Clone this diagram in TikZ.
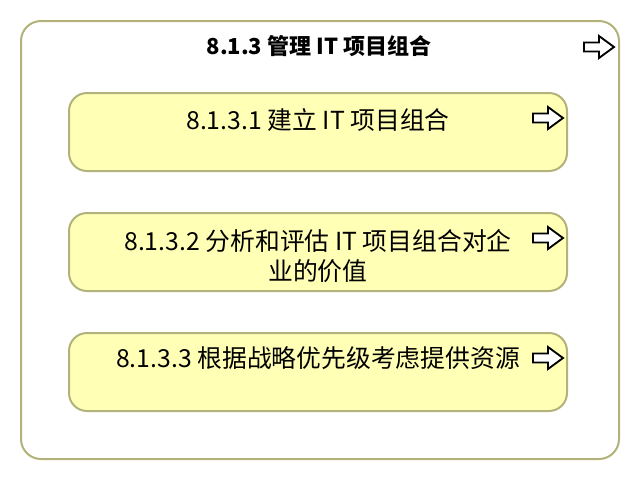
\documentclass[tikz,border=0pt]{standalone}
\usepackage{fontspec}
\setmainfont{Noto Sans CJK SC}
\usetikzlibrary{calc}
\definecolor{archiborder}{RGB}{178,178,122}
\definecolor{archifill}{RGB}{255,255,181}
\tikzset{
	container/.style = {draw = archiborder, line width = 1.5pt, rounded corners = 15pt,
		fill = white, minimum width = 448.5pt, minimum height = 328.5pt, inner sep = 0pt},
	procbox/.style = {draw = archiborder, line width = 1.5pt, rounded corners = 13.5pt,
		fill = archifill, minimum width = 373.5pt, minimum height = 58.5pt, inner sep = 0pt},
	proclabel/.style = {font = \fontsize{18.6pt}{22.5pt}\selectfont, align = center, inner sep = 0pt},
	procicon/.pic = {
		\draw[line width = 1.4pt, line join = miter, fill = white]
			(-30,-4.5) -- (-15,-4.5) -- (-15,-11) -- (0,0) -- (-15,11) -- (-15,4.5) -- (-30,4.5) -- cycle;
	}
}

\begin{document}
\begin{tikzpicture}[x = 0.75pt, y = -0.75pt]
\useasboundingbox (0,0) rectangle (640,480);

\node[container] (mgmt) at (320,240) {};
\node[font = \fontsize{16.5pt}{19pt}\selectfont\bfseries, inner sep = 0pt] (mgmttitle) at (319,46) {8.1.3 管理 IT 项目组合};
\pic (mgmticon) at ($(mgmt.north east) + (-6,27)$) {procicon};

\foreach[count = \i] \y/\ty/\t in {132/120/{8.1.3.1 建立 IT 项目组合},
		252/256/{8.1.3.2 分析和评估 IT 项目组合对企\\业的价值},
		372/358/{8.1.3.3 根据战略优先级考虑提供资源}} {
	\node[procbox] (proc\i) at (318,\y) {};
	\node[proclabel] (proclabel\i) at (318,\ty) {\t};
	\pic (procicon\i) at ($(proc\i.north east) + (-5,26)$) {procicon};
}

\end{tikzpicture}
\end{document}
